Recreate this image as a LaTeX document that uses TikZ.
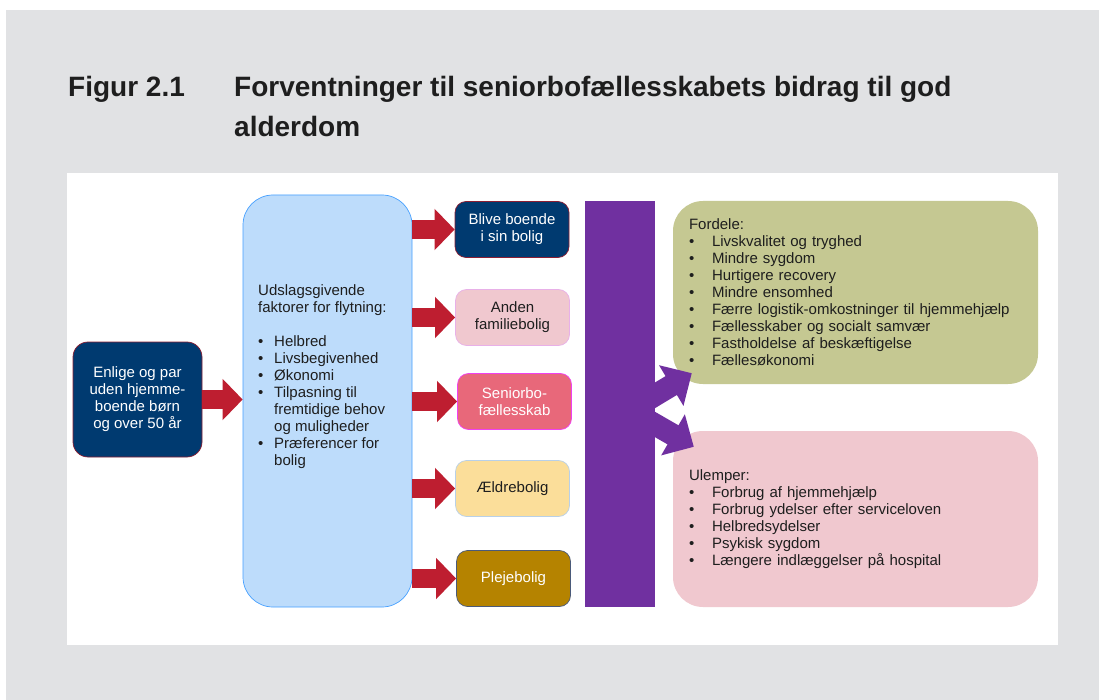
\documentclass[tikz,border=0pt]{standalone}
\usepackage{fontspec}
\setmainfont{Liberation Sans}
\usetikzlibrary{arrows.meta, positioning}

\definecolor{bggray}{RGB}{225,226,228}
\definecolor{txtgray}{RGB}{30,30,30}
\definecolor{navy}{RGB}{0,58,112}
\definecolor{wine}{RGB}{140,30,50}
\definecolor{arrowred}{RGB}{190,30,48}
\definecolor{skyfill}{RGB}{189,220,251}
\definecolor{skyline}{RGB}{70,160,255}
\definecolor{pinkfill}{RGB}{240,200,207}
\definecolor{pinkline}{RGB}{232,176,232}
\definecolor{rosefill}{RGB}{232,104,122}
\definecolor{roseline}{RGB}{240,64,240}
\definecolor{sandfill}{RGB}{251,222,154}
\definecolor{sandline}{RGB}{184,208,232}
\definecolor{ochrefill}{RGB}{181,131,0}
\definecolor{ochreline}{RGB}{74,90,122}
\definecolor{violetbar}{RGB}{112,48,160}
\definecolor{olivefill}{RGB}{197,200,146}

\newcommand{\bitem}[2][23pt]{\makebox[#1][l]{\textbullet}#2}

\tikzset{
  body/.style={font=\fontsize{15}{17}\selectfont, text=txtgray},
  choice/.style={body, rounded corners=11pt, line width=0.7pt, minimum width=114pt,
    minimum height=56pt, align=center, inner sep=2pt},
  outcome/.style={body, rounded corners=30pt, minimum width=365pt, align=left,
    text width=333pt, inner xsep=16pt},
  redarrow/.style={line width=19pt, draw=arrowred, -{Triangle[length=20pt, width=40pt]}},
  purplearrow/.style={line width=22pt, draw=violetbar, -{Triangle[length=24pt, width=46pt]}}
}

\begin{document}
\begin{tikzpicture}[x=1pt, y=-1pt]
\useasboundingbox (0,0) rectangle (1099,700);
\fill[bggray] (6,10) rectangle (1099,700);
\fill[white] (67,173) rectangle (1058,645);

% title
\node[anchor=base west, inner sep=0, font=\fontsize{28}{40}\selectfont\bfseries, text=txtgray]
  (fig) at (68,97) {Figur 2.1};
\node[anchor=base west, inner sep=0, align=left, font=\fontsize{28}{40}\selectfont\bfseries, text=txtgray]
  (title) at (234,137) {Forventninger til seniorbofællesskabets bidrag til god\\alderdom};

% start and factors
\node[choice, fill=navy, draw=wine, text=white, minimum width=129pt, minimum height=115pt,
  rounded corners=15pt] (start) at (137.5,399.5) {Enlige og par\\uden hjemme-\\boende børn\\og over 50 år};
\node[fill=skyfill, draw=skyline, line width=0.7pt, rounded corners=30pt,
  minimum width=169pt, minimum height=412pt] (factors) at (327.5,401) {};
\node[body, anchor=north west, inner sep=0, align=left] (factorstext) at (258,284)
  {Udslagsgivende\\faktorer for flytning:\\[17pt]
   \bitem[16pt]{Helbred}\\
   \bitem[16pt]{Livsbegivenhed}\\
   \bitem[16pt]{Økonomi}\\
   \bitem[16pt]{Tilpasning til}\\
   \hspace*{16pt}fremtidige behov\\
   \hspace*{16pt}og muligheder\\
   \bitem[16pt]{Præferencer for}\\
   \hspace*{16pt}bolig};

% housing choices
\node[choice, fill=navy, draw=wine, text=white] (stay) at (512,229.5) {Blive boende\\i sin bolig};
\node[choice, fill=pinkfill, draw=pinkline] (family) at (512.5,317.5) {Anden\\familiebolig};
\node[choice, fill=rosefill, draw=roseline, text=white] (senior) at (514.5,401.5) {Seniorbo-\\fællesskab};
\node[choice, fill=sandfill, draw=sandline] (elderly) at (512.5,488.5) {Ældrebolig};
\node[choice, fill=ochrefill, draw=ochreline, text=white] (care) at (513.5,578.5) {Plejebolig};

\draw[redarrow] (start.east) -- (start.east -| factors.west);
\foreach \n in {stay, family, senior, elderly, care}
  \draw[redarrow] (factors.east |- \n.west) -- (\n.west);

% effects
\node[fill=violetbar, minimum width=70pt, minimum height=406pt, inner sep=0] (bar) at (620,404) {};
\node[outcome, fill=olivefill, minimum height=183pt] (pro) at (855.5,292.5)
  {Fordele:\\
   \bitem{Livskvalitet og tryghed}\\
   \bitem{Mindre sygdom}\\
   \bitem{Hurtigere recovery}\\
   \bitem{Mindre ensomhed}\\
   \bitem{Færre logistik-omkostninger til hjemmehjælp}\\
   \bitem{Fællesskaber og socialt samvær}\\
   \bitem{Fastholdelse af beskæftigelse}\\
   \bitem{Fællesøkonomi}};
\node[outcome, fill=pinkfill, minimum height=176pt] (con) at (855.5,519)
  {Ulemper:\\
   \bitem{Forbrug af hjemmehjælp}\\
   \bitem{Forbrug ydelser efter serviceloven}\\
   \bitem{Helbredsydelser}\\
   \bitem{Psykisk sygdom}\\
   \bitem{Længere indlæggelser på hospital}};

\draw[purplearrow] ([shift={(-8pt,4pt)}]bar.east) -- ([shift={(19pt,11pt)}]pro.south west);
\draw[purplearrow] ([shift={(-8pt,-16pt)}]bar.east) -- ([shift={(21pt,-16pt)}]con.north west);

\end{tikzpicture}
\end{document}
